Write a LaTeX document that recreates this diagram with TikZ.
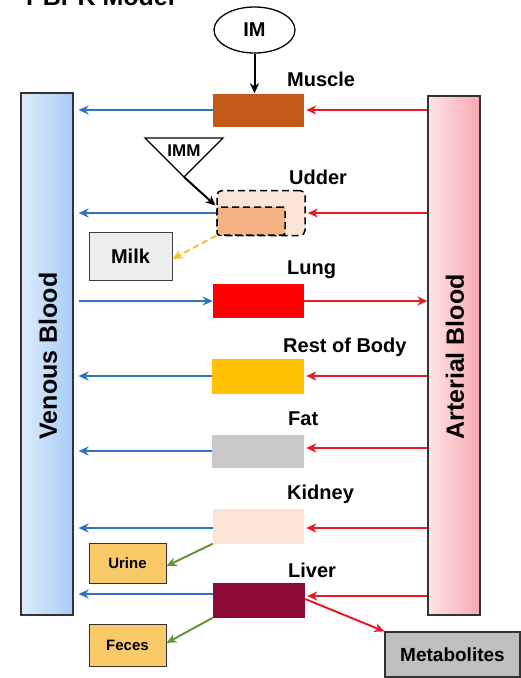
\documentclass[tikz,border=0pt]{standalone}
\usepackage{fontspec}
\setmainfont{Liberation Sans}
\usetikzlibrary{arrows.meta,calc,shapes.geometric}
\definecolor{bluearr}{RGB}{47,117,190}
\definecolor{redarr}{RGB}{229,28,36}
\definecolor{greenarr}{RGB}{98,150,60}
\definecolor{yellowarr}{RGB}{242,193,46}
\definecolor{musclec}{RGB}{192,90,22}
\definecolor{udderout}{RGB}{251,229,214}
\definecolor{udderin}{RGB}{244,177,131}
\definecolor{lungc}{RGB}{255,0,0}
\definecolor{robc}{RGB}{255,192,0}
\definecolor{fatc}{RGB}{201,201,201}
\definecolor{kidneyc}{RGB}{251,229,214}
\definecolor{liverc}{RGB}{140,10,52}
\definecolor{milkc}{RGB}{237,237,237}
\definecolor{excc}{RGB}{250,201,104}
\definecolor{metc}{RGB}{191,191,191}
\definecolor{venL}{RGB}{222,236,252}
\definecolor{venR}{RGB}{168,204,245}
\definecolor{artL}{RGB}{253,228,230}
\definecolor{artR}{RGB}{248,168,176}
\begin{document}
\begin{tikzpicture}[x=1pt,y=-1pt,
  font=\bfseries,
  organ/.style={rectangle,draw=none,minimum width=91pt,minimum height=34pt,inner sep=0pt},
  olabel/.style={anchor=west,font=\fontsize{20}{24}\selectfont\bfseries,inner sep=0pt},
  outbox/.style={rectangle,draw=black!80,line width=1pt,inner sep=0pt},
  blood/.style={rectangle,draw=black!80,line width=1.2pt,minimum width=52pt,inner sep=0pt},
  arr/.style={line width=2pt,-{Stealth[length=10pt,width=9pt,inset=3pt]}},
  bluea/.style={arr,draw=bluearr,fill=bluearr},
  reda/.style={arr,draw=redarr,fill=redarr},
  greena/.style={arr,draw=greenarr,fill=greenarr},
  dashbox/.style={rectangle,draw=black,line width=1.5pt,dash pattern=on 7pt off 4pt,inner sep=0pt},
]
\useasboundingbox (0,0) rectangle (520,678);

\node[anchor=base west,inner sep=0pt,font=\fontsize{25}{30}\selectfont\bfseries] (title) at (26,5) {PBPK Model};

% blood compartments
\node[blood,minimum height=522pt,left color=venL,right color=venR] (ven) at (47,354) {};
\node[rotate=90,font=\fontsize{25}{30}\selectfont\bfseries] (venl) at (48,356) {Venous Blood};
\node[blood,minimum height=519pt,left color=artL,right color=artR] (art) at (454,355.5) {};
\node[rotate=90,font=\fontsize{25}{30}\selectfont\bfseries] (artl) at (455,357) {Arterial Blood};

% organs
\node[organ,fill=musclec,minimum height=33pt] (muscle) at (258.5,110) {};
\node[olabel] (musclel) at (287,79) {Muscle};

\node[dashbox,rounded corners=5pt,fill=udderout,minimum width=88pt,minimum height=45pt] (udder) at (261,213) {};
\node[dashbox,rounded corners=2pt,fill=udderin,minimum width=68pt,minimum height=28pt] (udderin) at (251,221) {};
\node[olabel] (udderl) at (289,177) {Udder};

\node[organ,fill=lungc] (lung) at (258.5,301) {};
\node[olabel] (lungl) at (287,270) {Lung};

\node[organ,fill=robc,minimum width=92pt,minimum height=35pt] (rob) at (258,376) {};
\node[olabel] (robl) at (283,347) {Rest of Body};

\node[organ,fill=fatc,minimum width=92pt,minimum height=33pt] (fat) at (258,451) {};
\node[olabel] (fatl) at (288,419) {Fat};

\node[organ,fill=kidneyc,minimum height=35pt] (kidney) at (258.5,526) {};
\node[olabel] (kidneyl) at (287,494) {Kidney};

\node[organ,fill=liverc,minimum width=92pt,minimum height=35pt] (liver) at (259,600) {};
\node[olabel] (liverl) at (288,570) {Liver};

% dosing
\node[ellipse,draw=black,line width=1.3pt,minimum width=81pt,minimum height=46pt,inner sep=0pt,
  font=\fontsize{20}{24}\selectfont\bfseries] (im) at (254.5,30) {IM};
\coordinate (imma) at (145,138);
\coordinate (immb) at (223,138);
\coordinate (immc) at (184,177);
\draw[line width=1.3pt,line join=miter] (imma) -- (immb) -- (immc) -- cycle;
\node[font=\fontsize{17}{20}\selectfont\bfseries,inner sep=0pt] (imml) at (184,151) {IMM};

% outputs
\node[outbox,fill=milkc,draw=black!75,minimum width=83pt,minimum height=48pt,
  font=\fontsize{20}{24}\selectfont\bfseries] (milk) at (130.5,256) {Milk};
\node[outbox,fill=excc,minimum width=77pt,minimum height=40pt,
  font=\fontsize{15}{18}\selectfont\bfseries] (urine) at (127.5,563) {Urine};
\node[outbox,fill=excc,minimum width=77pt,minimum height=42pt,
  font=\fontsize{15}{18}\selectfont\bfseries] (feces) at (127.5,645) {Feces};
\node[outbox,fill=metc,line width=1.2pt,minimum width=135pt,minimum height=45pt,
  font=\fontsize{19}{23}\selectfont\bfseries] (met) at (452.5,654.5) {Metabolites};

% dosing arrows
\draw[arr,draw=black,fill=black] (im.south) -- (im.south |- muscle.north);
\draw[arr,draw=black,fill=black,shorten >=1pt] (immc) -- (udderin.north west);

% venous return (blue)
\foreach \o/\dy in {muscle/0,udder/0,rob/0,fat/0,kidney/2,liver/-6}{
  \draw[bluea,shorten >=5pt] ($(\o.west)+(0,\dy)$) -- ($(\o.west -| ven.east)+(0,\dy)$);
}
% arterial supply (red)
\foreach \o/\dy in {muscle/0,udder/0,rob/0,fat/-3,kidney/2,liver/-4}{
  \draw[reda,shorten >=2pt] ($(\o.east -| art.west)+(0,\dy)$) -- ($(\o.east)+(0,\dy)$);
}
% lung
\draw[bluea,shorten <=5pt] (lung.west -| ven.east) -- (lung.west);
\draw[reda] (lung.east) -- (lung.east -| art.west);

% excretion
\draw[arr,draw=yellowarr,fill=yellowarr,dash pattern=on 6pt off 4pt,line width=2pt] (udderin.south west) -- ($(milk.east)+(0,3)$);
\draw[greena] (kidney.south west) -- ($(urine.east)+(0,3)$);
\draw[greena] (liver.south west) -- ($(feces.east)+(0,-2)$);
\draw[reda] ($(liver.east)+(0,-1)$) -- (met.north west);
\end{tikzpicture}
\end{document}
